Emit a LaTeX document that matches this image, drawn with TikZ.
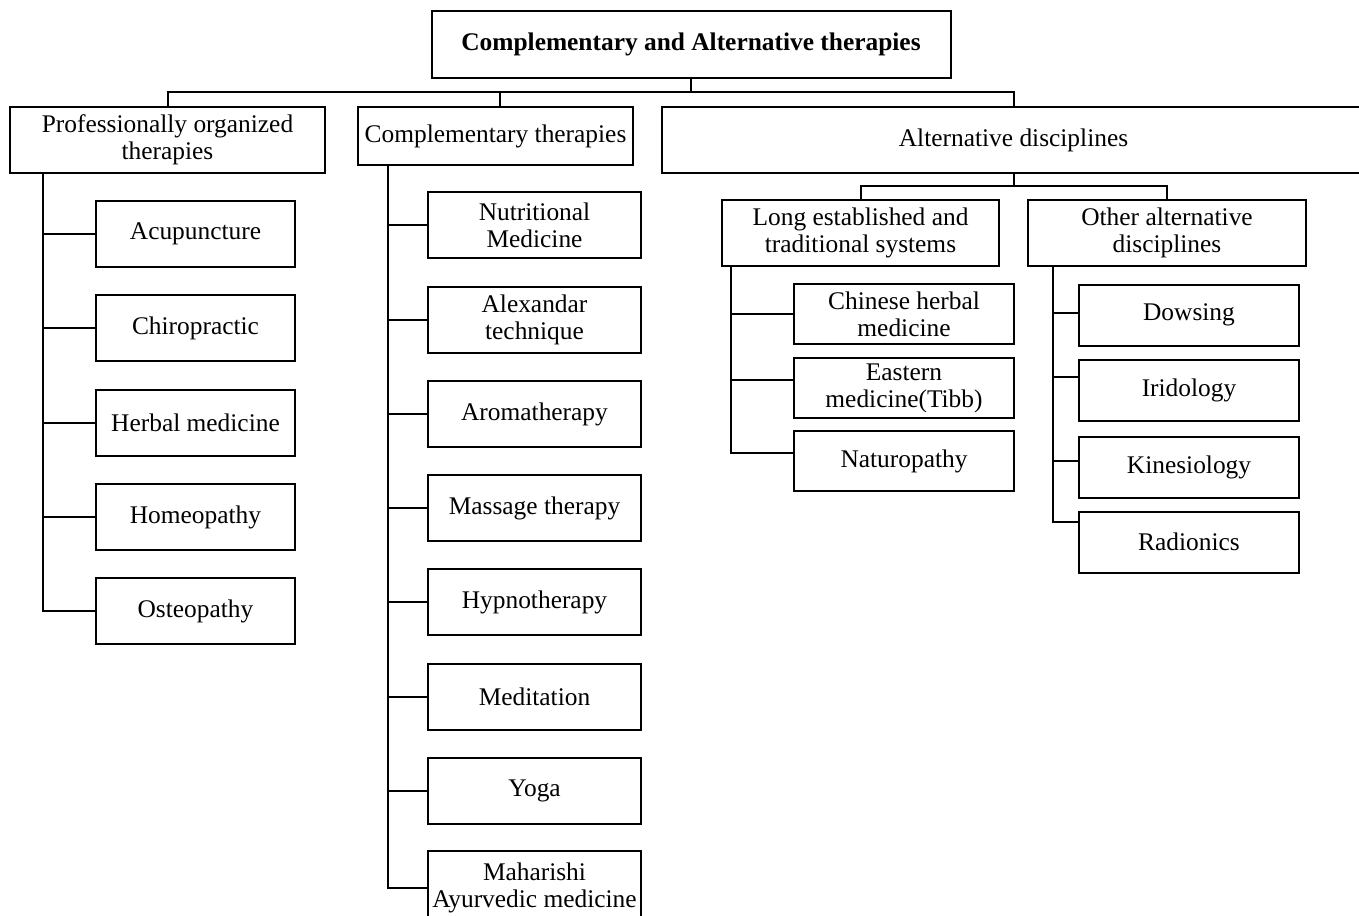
\documentclass[tikz,border=0pt]{standalone}
\usepackage{fontspec}
\setmainfont{Liberation Serif}
\usetikzlibrary{calc}
\begin{document}
\begin{tikzpicture}[x=1pt,y=-1pt,
  every node/.style={font=\fontsize{25.4}{27}\selectfont},
  box/.style={draw,line width=2pt,inner sep=0pt,align=center},
  conn/.style={line width=2pt}]
\clip (0,0) rectangle (1359,915);
\fill[white] (0,0) rectangle (1359,915);
% top
\node[box,minimum width=519,minimum height=67,font=\fontsize{25.4}{27}\selectfont\bfseries] (top) at (691,44.5) {Complementary and Alternative therapies};
% level 1
\node[box,minimum width=315,minimum height=66] (prof) at (167.5,140) {Professionally organized\\therapies};
\node[box,minimum width=275,minimum height=58] (comp) at (495.5,136) {Complementary therapies};
\node[box,minimum width=703,minimum height=66] (alt) at (1013.5,140) {Alternative disciplines};
% level 2 of alt
\node[box,minimum width=277,minimum height=66] (long) at (860.5,233) {Long established and\\traditional systems};
\node[box,minimum width=278,minimum height=66] (other) at (1167,233) {Other alternative\\disciplines};
% prof children
\tikzset{pc/.style={box,minimum width=199,minimum height=66}}
\node[pc] (acu) at (195.5,234) {Acupuncture};
\node[pc] (chi) at (195.5,328) {Chiropractic};
\node[pc] (her) at (195.5,423) {Herbal medicine};
\node[pc] (hom) at (195.5,517) {Homeopathy};
\node[pc] (ost) at (195.5,611) {Osteopathy};
% comp children
\tikzset{cc/.style={box,minimum width=213,minimum height=66}}
\node[cc] (nut) at (534.5,225) {Nutritional\\Medicine};
\node[cc] (ale) at (534.5,320) {Alexandar\\technique};
\node[cc] (aro) at (534.5,414) {Aromatherapy};
\node[cc] (mas) at (534.5,508) {Massage therapy};
\node[cc] (hyp) at (534.5,602) {Hypnotherapy};
\node[cc] (med) at (534.5,697) {Meditation};
\node[cc] (yog) at (534.5,791) {Yoga};
\node[box,minimum width=213,minimum height=74] (mah) at (534.5,888) {Maharishi\\Ayurvedic medicine};
% long children
\tikzset{lc/.style={box,minimum width=220,minimum height=60}}
\node[lc] (chn) at (904,314) {Chinese herbal\\medicine};
\node[lc] (eas) at (904,388) {Eastern\\medicine(Tibb)};
\node[lc] (nat) at (904,461) {Naturopathy};
% other children
\tikzset{oc/.style={box,minimum width=220,minimum height=61}}
\node[oc] (dow) at (1189,315) {Dowsing};
\node[oc] (iri) at (1189,390) {Iridology};
\node[oc] (kin) at (1189,467) {Kinesiology};
\node[oc] (rad) at (1189,542) {Radionics};
% buses
\coordinate (bus) at (691,92);
\draw[conn] (top.south) -- (bus);
\draw[conn] (prof.north) -- (prof.north |- bus) -- (alt.north |- bus) -- (alt.north);
\draw[conn] ([xshift=4.5pt]comp.north) -- ([xshift=4.5pt]comp.north |- bus);
\coordinate (bus2) at (1013.5,186);
\draw[conn] (alt.south) -- (bus2);
\draw[conn] (long.north) -- (long.north |- bus2) -- (other.north |- bus2) -- (other.north);
% prof trunk
\coordinate (pt) at (43,173);
\draw[conn] (pt) |- (ost.west);
\foreach \n in {acu,chi,her,hom} \draw[conn] (\n.west) -- (\n.west -| pt);
% comp trunk
\coordinate (ct) at (388,165);
\draw[conn] (ct) |- (mah.west);
\foreach \n in {nut,ale,aro,mas,hyp,med,yog} \draw[conn] (\n.west) -- (\n.west -| ct);
% long trunk
\coordinate (lt) at (731,266);
\draw[conn] (lt) |- ([yshift=8pt]nat.west);
\draw[conn] (chn.west) -- (chn.west -| lt);
\draw[conn] ([yshift=8pt]eas.west) -- ([yshift=8pt]eas.west -| lt);
% other trunk
\coordinate (ot) at (1053,266);
\draw[conn] (ot) |- ([yshift=20pt]rad.west);
\draw[conn] ([yshift=2pt]dow.west) -- ([yshift=2pt]dow.west -| ot);
\draw[conn] ([yshift=13pt]iri.west) -- ([yshift=13pt]iri.west -| ot);
\draw[conn] ([yshift=6pt]kin.west) -- ([yshift=6pt]kin.west -| ot);
\end{tikzpicture}
\end{document}
